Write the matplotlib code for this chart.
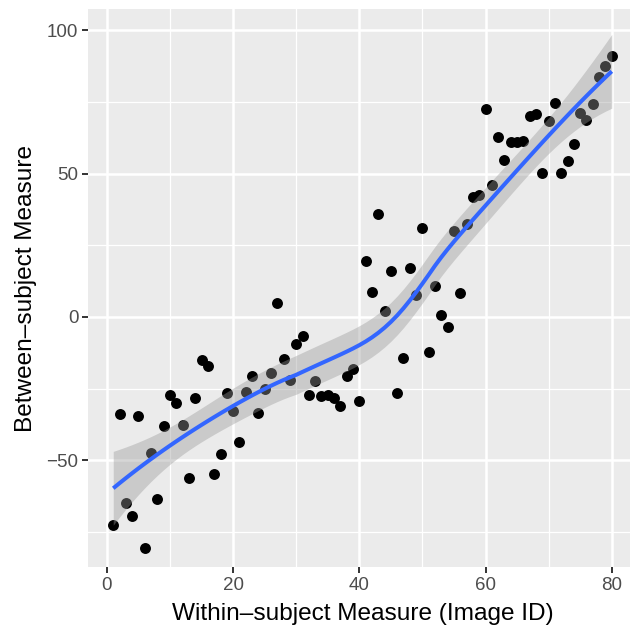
import numpy as np
import matplotlib
matplotlib.use("Agg")
import matplotlib.pyplot as plt

# ---- data ----
image_id = list(range(1, 81))
between = [
    -72.7, -33.8, -64.9, -69.6, -34.7, -80.8, -47.5, -63.4, -38.2, -27.1,
    -30.1, -37.7, -56.3, -28.3, -15.2, -17.1, -54.7, -47.7, -26.4, -33.0,
    -43.8, -26.2, -20.6, -33.6, -25.0, -19.6, 4.8, -14.6, -22.0, -9.4,
    -6.6, -27.2, -22.2, -27.5, -27.2, -28.2, -31.0, -20.6, -18.2, -29.3,
    19.6, 8.7, 35.9, 2.2, 16.1, -26.6, -14.5, 17.0, 7.7, 31.0,
    -12.4, 10.8, 0.5, -3.4, 29.9, 8.2, 32.6, 41.9, 42.6, 72.7,
    46.0, 62.8, 54.7, 60.9, 60.9, 61.4, 70.0, 70.7, 50.3, 68.4,
    74.7, 50.1, 54.5, 60.5, 71.3, 68.9, 74.5, 83.7, 87.5, 91.2,
]
x_ticks = [0, 20, 40, 60, 80]
y_ticks = [-50, 0, 50, 100]
x_tick_labels = ["0", "20", "40", "60", "80"]
y_tick_labels = ["\u221250", "0", "50", "100"]
x_label = "Within\u2013subject Measure (Image ID)"
y_label = "Between\u2013subject Measure"

SPAN = 0.75
T_CRIT = 1.994


def loess_weights(x, x0, span):
    n = len(x)
    q = int(np.floor(n * span))
    d = np.abs(x - x0)
    h = np.sort(d)[q - 1]
    u = np.clip(d / h, 0, 1)
    return (1 - u ** 3) ** 3


def loess_row(x, x0, span):
    w = loess_weights(x, x0, span)
    X = np.column_stack([np.ones_like(x), x - x0, (x - x0) ** 2])
    W = np.diag(w)
    A = X.T @ W @ X
    return (np.linalg.solve(A, X.T @ W))[0]


x = np.asarray(image_id, float)
y = np.asarray(between, float)
L = np.vstack([loess_row(x, xi, SPAN) for xi in x])
fitted = L @ y
IL = np.eye(len(x)) - L
M = IL.T @ IL
d1 = np.trace(M)
sigma = np.sqrt(np.sum((y - fitted) ** 2) / d1)

xg = np.linspace(x.min(), x.max(), 80)
rows = np.vstack([loess_row(x, xi, SPAN) for xi in xg])
yg = rows @ y
se = sigma * np.sqrt(np.sum(rows ** 2, axis=1))
lo = yg - T_CRIT * se
hi = yg + T_CRIT * se

# ---- figure ----
plt.rcParams['font.family'] = ['Liberation Sans', 'DejaVu Sans']
fig = plt.figure(figsize=(6.3, 6.35), dpi=100)
W, H = 630, 635
left_px, top_px, bottom_px = 88, 9, 567
xlim = (-3.0, 84.0)
ylim = (-87.3, 107.5)
px_per_x = 6.31
width_px = (xlim[1] - xlim[0]) * px_per_x
ax = fig.add_axes([left_px / W, 1 - bottom_px / H, width_px / W, (bottom_px - top_px) / H])
ax.set_facecolor('#EBEBEB')
ax.set_xlim(*xlim)
ax.set_ylim(*ylim)

for v in [10, 30, 50, 70]:
    ax.axvline(v, color='white', lw=0.9, zorder=0.5)
for v in [-75, -25, 25, 75]:
    ax.axhline(v, color='white', lw=0.9, zorder=0.5)
for v in x_ticks:
    ax.axvline(v, color='white', lw=1.8, zorder=0.6)
for v in y_ticks:
    ax.axhline(v, color='white', lw=1.8, zorder=0.6)

ax.scatter(x, y, s=62, color='black', linewidths=0, zorder=2)
ax.fill_between(xg, lo, hi, color='#999999', alpha=0.4, linewidth=0, zorder=3)
ax.plot(xg, yg, color='#3366FF', lw=2.9, zorder=4, solid_capstyle='butt')

for s in ax.spines.values():
    s.set_visible(False)
ax.set_xticks(x_ticks)
ax.set_yticks(y_ticks)
ax.set_xticklabels(x_tick_labels)
ax.set_yticklabels(y_tick_labels)
ax.tick_params(axis='both', length=4, width=1.4, color='#333333',
               labelsize=13.5, labelcolor='#4D4D4D', pad=3)
ax.set_xlabel(x_label, fontsize=17.6, color='black', labelpad=7)
ax.set_ylabel(y_label, fontsize=17.6, color='black', labelpad=7)

fig.savefig('out.png', dpi=100, facecolor='white')
